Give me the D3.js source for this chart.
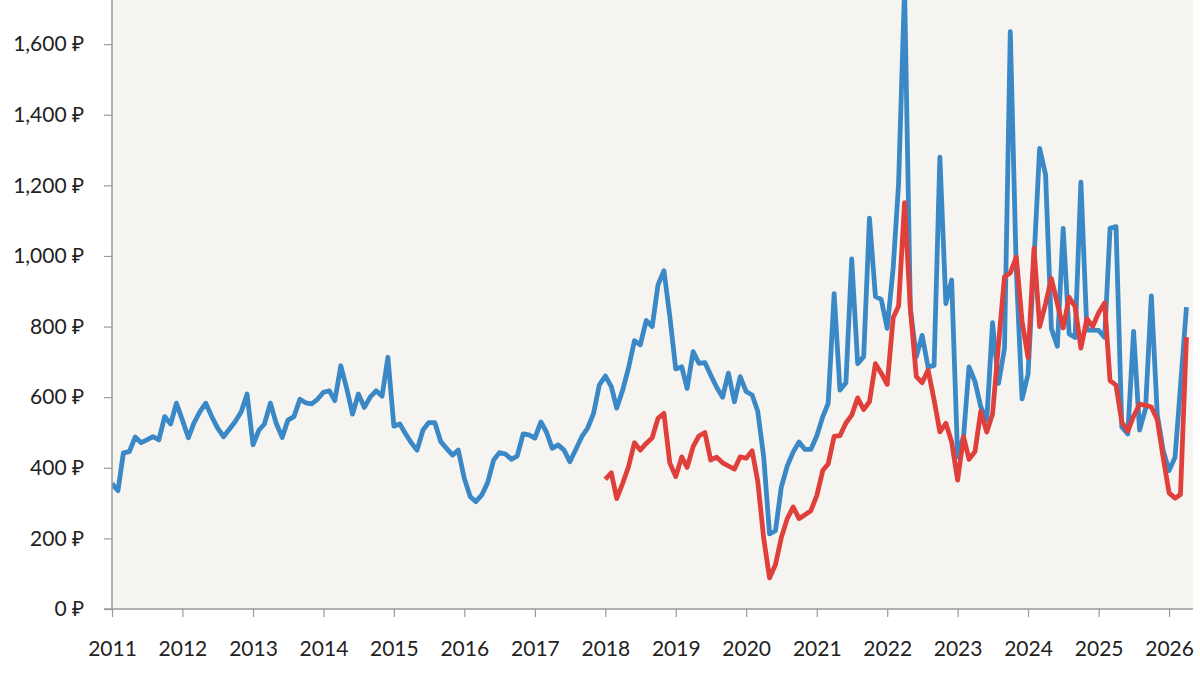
<!DOCTYPE html>
<html>
<head>
<meta charset="utf-8">
<script src="https://cdn.jsdelivr.net/npm/d3@7"></script>
<style>
  html, body { margin: 0; padding: 0; background: #ffffff; }
  svg { display: block; }
  .tick text { font-family: Lato, "Open Sans", sans-serif; font-size: 21px; fill: #222; }
</style>
</head>
<body>
<svg id="svg" width="1200" height="675"></svg>
<script>
// monthly series, blue from Jan 2011, red from Jan 2018
const blueStart = [2011, 0];
const blueValues = [
  355, 335, 442, 446, 487, 471, 479, 488, 479, 545, 524, 583,
  535, 485, 527, 559, 583, 545, 513, 488, 510, 531, 559, 609,
  465, 507, 524, 583, 526, 486, 535, 545, 594, 584, 581, 594,
  614, 618, 590, 689, 626, 552, 609, 571, 601, 618, 603, 713,
  518, 524, 498, 471, 450, 507, 528, 528, 474, 455, 436, 450,
  370, 318, 304, 323, 358, 422, 443, 439, 424, 433, 496, 493,
  484, 530, 502, 455, 465, 450, 417, 452, 488, 512, 554, 635,
  660, 630, 569, 620, 682, 760, 748, 817, 800, 918, 958, 830,
  680, 686, 625, 729, 696, 698, 663, 628, 600, 668, 587, 658,
  616, 606, 560, 430, 213, 222, 345, 405, 445, 473, 452, 452,
  490, 545, 582, 893, 620, 641, 992, 695, 715, 1107, 885, 877,
  795, 966, 1205, 1760, 850, 715, 775, 685, 690, 1280, 865, 932,
  431, 490, 686, 644, 573, 535, 811, 639, 738, 1635, 960, 595,
  665, 990, 1305, 1230, 794, 744, 1078, 779, 769, 1209, 790, 790,
  789, 769, 1078, 1083, 516, 496, 786, 507, 567, 887, 550, 450,
  392, 430, 630, 855
];

const redStart = [2018, 0];
const redValues = [
  367, 386, 313, 356, 403, 471, 450, 469, 485, 540, 554, 414,
  375, 431, 401, 460, 490, 500, 422, 430, 414, 405, 396, 431,
  427, 448, 362, 200, 88, 126, 202, 256, 289, 256, 267, 278,
  321, 392, 411, 489, 491, 527, 549, 598, 565, 587, 695, 668,
  636, 825, 858, 1151, 850, 658, 641, 677, 592, 502, 526, 474,
  365, 488, 424, 446, 560, 501, 552, 750, 941, 952, 997, 815,
  712, 1022, 800, 865, 936, 865, 796, 883, 856, 739, 822, 800,
  839, 867, 647, 634, 529, 504, 546, 580, 577, 572, 536, 430,
  329, 314, 324, 770
];

const yTicks = [0, 200, 400, 600, 800, 1000, 1200, 1400, 1600];
const yearTicks = d3.range(2011, 2027);

const width = 1200;
const height = 675;
const margin = { top: 0, right: 7, bottom: 66, left: 112 };

const svg = d3.select("#svg");

const x = d3
  .scaleUtc()
  .domain([new Date(Date.UTC(2011, 0, 1)), new Date(Date.UTC(2026, 4, 5))])
  .range([margin.left, width - margin.right]);

const y = d3
  .scaleLinear()
  .domain([0, 1725])
  .range([height - margin.bottom, margin.top]);

function toPoints(start, values) {
  return values.map((v, i) => ({
    date: new Date(Date.UTC(start[0], start[1] + i, 1)),
    value: v
  }));
}

// plot background
svg
  .append("rect")
  .attr("x", margin.left)
  .attr("y", margin.top)
  .attr("width", width - margin.right - margin.left)
  .attr("height", height - margin.bottom - margin.top)
  .attr("fill", "#f6f4f1");

const line = d3
  .line()
  .x(d => x(d.date))
  .y(d => y(d.value));

svg
  .append("clipPath")
  .attr("id", "clip")
  .append("rect")
  .attr("x", margin.left)
  .attr("y", margin.top)
  .attr("width", width - margin.right - margin.left)
  .attr("height", height - margin.bottom);

const lines = svg.append("g").attr("clip-path", "url(#clip)");

lines
  .append("path")
  .datum(toPoints(blueStart, blueValues))
  .attr("fill", "none")
  .attr("stroke", "#3b88c6")
  .attr("stroke-width", 4.8)
  .attr("stroke-linejoin", "round")
  .attr("d", line);

lines
  .append("path")
  .datum(toPoints(redStart, redValues))
  .attr("fill", "none")
  .attr("stroke", "#e0403c")
  .attr("stroke-width", 4.8)
  .attr("stroke-linejoin", "round")
  .attr("d", line);

const fmt = d3.format(",");

const yAxis = d3
  .axisLeft(y)
  .tickValues(yTicks)
  .tickSize(8)
  .tickPadding(20)
  .tickFormat(d => fmt(d) + " ₽");

const xAxis = d3
  .axisBottom(x)
  .tickValues(yearTicks.map(yr => new Date(Date.UTC(yr, 0, 1))))
  .tickSize(8)
  .tickPadding(24)
  .tickFormat(d3.utcFormat("%Y"));

const gy = svg
  .append("g")
  .attr("transform", `translate(${margin.left}, 0)`)
  .call(yAxis);

const gx = svg
  .append("g")
  .attr("transform", `translate(0, ${height - margin.bottom})`)
  .call(xAxis);

[gy, gx].forEach(g => {
  g.select(".domain").attr("stroke", "#9a9a9a").attr("stroke-width", 1.5);
  g.selectAll(".tick line").attr("stroke", "#9a9a9a").attr("stroke-width", 1.2);
});

gx.select(".domain").attr("d", `M${margin.left - 8},0H${width - margin.right}`);
gy.select(".domain").attr("d", `M0,${margin.top}V${height - margin.bottom}`);
</script>
</body>
</html>
